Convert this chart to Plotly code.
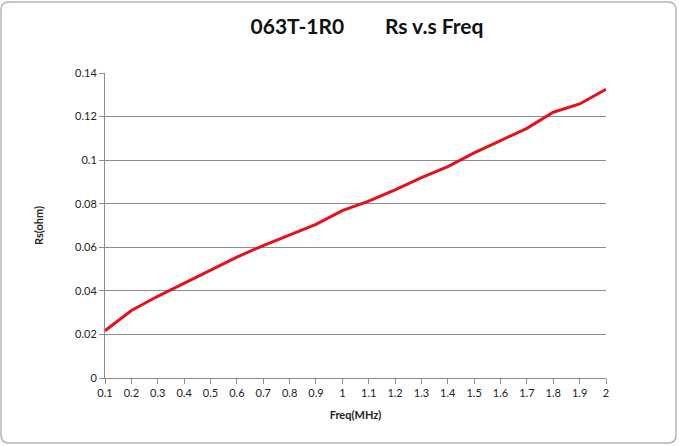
import plotly.graph_objects as go

freq = [0.1, 0.2, 0.3, 0.4, 0.5, 0.6, 0.7, 0.8, 0.9, 1.0,
        1.1, 1.2, 1.3, 1.4, 1.5, 1.6, 1.7, 1.8, 1.9, 2.0]
rs = [0.0217, 0.0310, 0.0375, 0.0435, 0.0494, 0.0555, 0.0608, 0.0655, 0.0705, 0.0768,
      0.0812, 0.0864, 0.0920, 0.0970, 0.1033, 0.1090, 0.1146, 0.1220, 0.1258, 0.1325]
x_ticklabels = ["0.1", "0.2", "0.3", "0.4", "0.5", "0.6", "0.7", "0.8", "0.9", "1",
                "1.1", "1.2", "1.3", "1.4", "1.5", "1.6", "1.7", "1.8", "1.9", "2"]
y_ticks = [0, 0.02, 0.04, 0.06, 0.08, 0.1, 0.12, 0.14]
y_ticklabels = ["0", "0.02", "0.04", "0.06", "0.08", "0.1", "0.12", "0.14"]

FONT = "Lato, 'Open Sans', sans-serif"

fig = go.Figure()
fig.add_trace(go.Scatter(x=freq, y=rs, mode="lines",
                         line=dict(color="#e3121b", width=3), showlegend=False))

fig.update_layout(
    width=679, height=446,
    margin=dict(l=105, r=73, t=73, b=68, autoexpand=False),
    paper_bgcolor="white", plot_bgcolor="white",
    font=dict(family=FONT, size=11, color="#222"),
    title=dict(text="<b>063T-1R0        Rs v.s Freq</b>",
               x=367 / 679, xanchor="center", y=1 - 27 / 446, yanchor="middle",
               font=dict(family=FONT, size=21, color="#111")),
    xaxis=dict(range=[0.1, 2.0], tickvals=freq, ticktext=x_ticklabels,
               automargin=False,
               showgrid=False, showline=True, linecolor="#8c8c8c", linewidth=1,
               ticks="outside", ticklen=5, tickcolor="#8c8c8c",
               tickfont=dict(size=11, color="#222"), zeroline=False,
               title=dict(text="<b>Freq(MHz)</b>", standoff=13,
                          font=dict(size=11, color="#222"))),
    yaxis=dict(range=[0, 0.14], tickvals=y_ticks, ticktext=y_ticklabels,
               automargin=False,
               showgrid=True, gridcolor="#8c8c8c", gridwidth=1,
               showline=True, linecolor="#8c8c8c", linewidth=1,
               ticks="outside", ticklen=5, tickcolor="#8c8c8c",
               tickfont=dict(size=11, color="#222"), zeroline=False,
               title=dict(text="<b>Rs(ohm)</b>", standoff=29,
                          font=dict(size=11, color="#222"))),
)

# outer chart border (rounded rectangle)
x0, x1, y0, y1 = -104 / 501, 571 / 501, -65 / 305, 376 / 305
rx, ry = 8 / 501, 8 / 305
path = (f"M {x0+rx},{y1} L {x1-rx},{y1} Q {x1},{y1} {x1},{y1-ry} "
        f"L {x1},{y0+ry} Q {x1},{y0} {x1-rx},{y0} L {x0+rx},{y0} "
        f"Q {x0},{y0} {x0},{y0+ry} L {x0},{y1-ry} Q {x0},{y1} {x0+rx},{y1} Z")
fig.add_shape(type="path", path=path, xref="paper", yref="paper",
              line=dict(color="#b5b5b5", width=1.5), layer="below")

fig.write_html("out.html", config={"displayModeBar": False},
               post_script="document.body.style.margin='0';document.body.style.padding='0';")
